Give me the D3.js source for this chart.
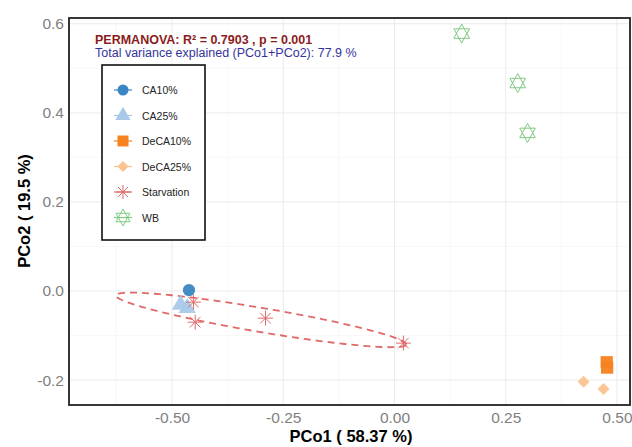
<html>
<head>
    <script src="https://d3js.org/d3.v7.min.js"></script>
</head>
<body style="margin:0;background:#fff">
    <svg id="pcoa" width="632" height="447"></svg>
</body>
<style>
    text{font-family: "Liberation Sans", Arial, sans-serif}
</style>
<script>

    // groups and their points (PCo1, PCo2)
    const groups = ['CA10%', 'CA25%', 'DeCA10%', 'DeCA25%', 'Starvation', 'WB']
    const colors = ['#3a86c3', '#a9c9ea', '#f7821f', '#fcc28e', '#e06a6a', '#80c982']

    const ca10 = [[-0.462, 0.002]]
    const ca25 = [[-0.481, -0.031], [-0.466, -0.038]]
    const deca10 = [[0.477, -0.160], [0.478, -0.172]]
    const deca25 = [[0.425, -0.204], [0.470, -0.220]]
    const starvation = [[-0.452, -0.025], [-0.448, -0.070], [-0.290, -0.061], [0.020, -0.117]]
    const wb = [[0.151, 0.578], [0.277, 0.467], [0.299, 0.355]]

    // starvation ellipse: centre, semi axes, angle (degrees)
    const ellCenter = [-0.300, -0.065]
    const ellAxes = [0.331, 0.027]
    const ellAngle = -9.6

    const xTicks = [-0.5, -0.25, 0, 0.25, 0.5]
    const yTicks = [-0.2, 0, 0.2, 0.4, 0.6]
    const xMinor = [-0.625, -0.375, -0.125, 0.125, 0.375]
    const yMinor = [-0.1, 0.1, 0.3, 0.5]

    const svg = d3.select('svg#pcoa')
    const panel = {left: 69, right: 630, top: 18, bottom: 405}

    const x = d3.scaleLinear().domain([-0.7317, 0.5294]).range([panel.left, panel.right])
    const y = d3.scaleLinear().domain([-0.256, 0.613]).range([panel.bottom, panel.top])

    const loc = d3.formatLocale({decimal: '.', thousands: ',', grouping: [3], currency: ['', ''], minus: '-'})

    // grid
    const grid = svg.append('g')
    grid.selectAll('line.xmin').data(xMinor).join('line')
        .attr('x1', d => x(d)).attr('x2', d => x(d))
        .attr('y1', panel.top).attr('y2', panel.bottom)
        .attr('stroke', '#f4f4f4').attr('stroke-width', 0.6)
    grid.selectAll('line.ymin').data(yMinor).join('line')
        .attr('y1', d => y(d)).attr('y2', d => y(d))
        .attr('x1', panel.left).attr('x2', panel.right)
        .attr('stroke', '#f4f4f4').attr('stroke-width', 0.6)
    grid.selectAll('line.xmaj').data(xTicks).join('line')
        .attr('x1', d => x(d)).attr('x2', d => x(d))
        .attr('y1', panel.top).attr('y2', panel.bottom)
        .attr('stroke', '#ebebeb').attr('stroke-width', 1)
    grid.selectAll('line.ymaj').data(yTicks).join('line')
        .attr('y1', d => y(d)).attr('y2', d => y(d))
        .attr('x1', panel.left).attr('x2', panel.right)
        .attr('stroke', '#ebebeb').attr('stroke-width', 1)

    // axes
    const xAxis = svg.append('g')
        .attr('transform', `translate(0,${panel.bottom + 2})`)
        .call(d3.axisBottom(x).tickValues(xTicks).tickFormat(loc.format('.2f')).tickSize(0).tickPadding(5))
    const yAxis = svg.append('g')
        .attr('transform', `translate(${panel.left - 2},0)`)
        .call(d3.axisLeft(y).tickValues(yTicks).tickFormat(loc.format('.1f')).tickSize(0).tickPadding(3))
    ;[xAxis, yAxis].forEach(a => {
        a.select('path.domain').remove()
        a.selectAll('text').attr('fill', '#7f7f7f').attr('font-size', '15.5px')
            .attr('font-family', '"Liberation Sans", Arial, sans-serif')
    })

    svg.append('text').text('PCo1 ( 58.37 %)')
        .attr('x', 351).attr('y', 442)
        .attr('text-anchor', 'middle').attr('font-weight', 'bold').attr('font-size', '16.5px')
    svg.append('text').text('PCo2 ( 19.5 %)')
        .attr('transform', `translate(30,211) rotate(-90)`)
        .attr('text-anchor', 'middle').attr('font-weight', 'bold').attr('font-size', '16.5px')

    // shapes
    const hexagram = r => {
        let p = ''
        for (const off of [-90, 90]) {
            const pts = [0, 1, 2].map(i => {
                const a = (off + i * 120) * Math.PI / 180
                return [r * 0.95 * Math.cos(a), r * Math.sin(a)]
            })
            p += 'M' + pts.map(q => q.join(',')).join('L') + 'Z'
        }
        return p
    }
    const asterisk = r => {
        let p = ''
        for (let i = 0; i < 4; i++) {
            const a = i * Math.PI / 4
            p += `M${-r * Math.cos(a)},${-r * Math.sin(a)}L${r * Math.cos(a)},${r * Math.sin(a)}`
        }
        return p
    }
    const diamond = r => `M0,${-r}L${r},0L0,${r}L${-r},0Z`
    const shapes = [
        {path: d3.symbol(d3.symbolCircle, 120)(), fill: true},
        {path: d3.symbol(d3.symbolTriangle, 130)(), fill: true},
        {path: d3.symbol(d3.symbolSquare, 150)(), fill: true},
        {path: diamond(6), fill: true},
        {path: asterisk(7.5), fill: false},
        {path: hexagram(9.5), fill: false}
    ]
    const legendShapes = [
        {path: d3.symbol(d3.symbolCircle, 95)(), fill: true},
        {path: d3.symbol(d3.symbolTriangle, 100)(), fill: true},
        {path: d3.symbol(d3.symbolSquare, 120)(), fill: true},
        {path: diamond(5.5), fill: true},
        {path: asterisk(7), fill: false},
        {path: hexagram(8.5), fill: false}
    ]

    // ellipse
    const th = ellAngle * Math.PI / 180
    const ellPts = d3.range(0, 361, 3).map(t => {
        const a = t * Math.PI / 180
        const ex = ellAxes[0] * Math.cos(a), ey = ellAxes[1] * Math.sin(a)
        return [ellCenter[0] + ex * Math.cos(th) - ey * Math.sin(th),
                ellCenter[1] + ex * Math.sin(th) + ey * Math.cos(th)]
    })
    svg.append('path')
        .attr('d', d3.line().x(d => x(d[0])).y(d => y(d[1]))(ellPts))
        .attr('fill', 'none').attr('stroke', colors[4]).attr('stroke-width', 1.8)
        .attr('stroke-dasharray', '7,5')

    // points
    const allData = [ca10, ca25, deca10, deca25, starvation, wb]
    allData.forEach((pts, gi) => {
        svg.append('g').selectAll('path').data(pts).join('path')
            .attr('d', shapes[gi].path)
            .attr('transform', d => `translate(${x(d[0])},${y(d[1])})`)
            .attr('fill', shapes[gi].fill ? colors[gi] : 'none')
            .attr('fill-opacity', 0.95)
            .attr('stroke', shapes[gi].fill ? 'none' : colors[gi])
            .attr('stroke-width', 1)
    })

    // panel border
    svg.append('rect')
        .attr('x', panel.left).attr('y', panel.top)
        .attr('width', panel.right - panel.left).attr('height', panel.bottom - panel.top)
        .attr('fill', 'none').attr('stroke', '#222').attr('stroke-width', 1.8)

    // annotation
    svg.append('text').text('PERMANOVA: R² = 0.7903 , p = 0.001')
        .attr('x', 95).attr('y', 44).attr('fill', '#8b1c1c')
        .attr('font-weight', 'bold').attr('font-size', '12.5px')
    svg.append('text').text('Total variance explained (PCo1+PCo2): 77.9 %')
        .attr('x', 95).attr('y', 57).attr('fill', '#33339a').attr('font-size', '12.5px')

    // legend
    const lg = svg.append('g')
    lg.append('rect').attr('x', 102).attr('y', 65).attr('width', 103).attr('height', 175)
        .attr('fill', '#fff').attr('stroke', '#111').attr('stroke-width', 1.6)
    const items = lg.selectAll('g.item').data(groups).join('g')
        .attr('class', 'item')
        .attr('transform', (d, i) => `translate(123,${90 + i * 25.5})`)
    items.append('line').attr('x1', -9).attr('x2', 9)
        .attr('stroke', (d, i) => colors[i]).attr('stroke-width', 1.2)
    items.append('path').attr('d', (d, i) => legendShapes[i].path)
        .attr('fill', (d, i) => legendShapes[i].fill ? colors[i] : 'none')
        .attr('stroke', (d, i) => legendShapes[i].fill ? 'none' : colors[i])
    items.append('text').text(d => d)
        .attr('x', 19).attr('y', 4).attr('font-size', '10.5px').attr('fill', '#222')

</script>
</html>
